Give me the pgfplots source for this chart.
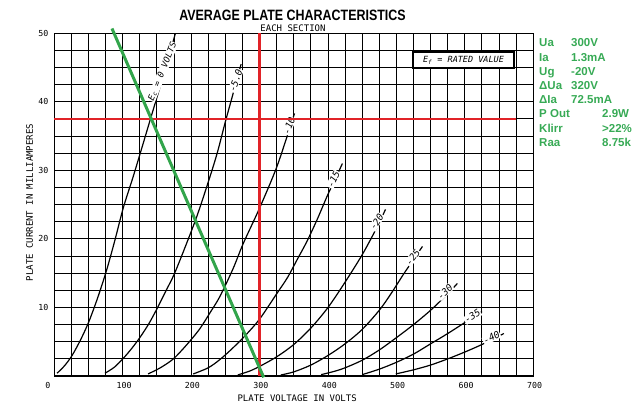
\documentclass[border=0pt]{standalone}
\usepackage{graphicx}
\usepackage{pgfplots}
\pgfplotsset{compat=1.18}
\usepackage{fontspec}
\setmainfont{Liberation Sans}
\newfontfamily\draft{DejaVu Sans Mono}
\definecolor{rl}{RGB}{225,35,40}
\definecolor{gl}{RGB}{50,165,75}
\definecolor{gt}{RGB}{55,170,85}
\begin{document}
\begin{tikzpicture}[lbl/.style={font=\draft\itshape\fontsize{9.5}{10}\selectfont, inner sep=0.6pt, fill=white}]
\useasboundingbox (0,0) rectangle (640pt,415pt);
\begin{axis}[
  at={(54.3pt,39pt)}, anchor=south west,
  scale only axis, width=479pt, height=342.7pt,
  xmin=0, xmax=700, ymin=0, ymax=50,
  xtick={100,200,300,400,500,600,700},
  xticklabels={100,200,300,400,500,600,700},
  extra x ticks={0}, extra x tick labels={0},
  extra x tick style={grid=none, xticklabel style={xshift=-7.8pt}},
  ytick={10,20,30,40,50}, yticklabels={10,20,30,40,50},
  minor xtick={25,50,...,675},
  minor ytick={2.5,5,...,47.5},
  grid=both,
  major grid style={black, line width=1pt},
  minor grid style={black, line width=1pt},
  major tick length=0pt, minor tick length=0pt,
  axis line style={black, line width=1.4pt},
  tick label style={font=\draft\fontsize{8.3}{9}\selectfont},
  xticklabel style={yshift=-3pt, xshift=1.3pt},
  yticklabel style={xshift=-2.5pt},
  clip=false,
  xlabel={PLATE VOLTAGE IN VOLTS},
  ylabel={PLATE CURRENT IN MILLIAMPERES},
  every axis x label/.style={at={(axis description cs:0.507,0)}, anchor=center, yshift=-22pt, font=\draft\fontsize{9}{10}\selectfont},
  every axis y label/.style={at={(axis description cs:0,0.506)}, xshift=-24.8pt, rotate=90, anchor=center, font=\draft\fontsize{9}{10}\selectfont},
]
% Ec = 0
\addplot[black, line width=1.2pt, smooth] coordinates {(4,0.4) (15,1.5) (26,3) (38,5.2) (50,7.8) (63,11.3) (76,15.3) (88,19.6) (101,24.6) (115,29) (128,33.3) (142,38) (160,44) (177,50)};
% Ec = -5
\addplot[black, line width=1.2pt, smooth] coordinates {(74,0.4) (88,1.3) (101,2.6) (113,4) (125,5.6) (138,7.6) (150,9.8) (163,12.4) (175,14.8) (190,18.5) (208,23.2) (225,28.3) (238,32.5) (250,37.1) (261,41.1) (273,45.5)};
% Ec = -10
\addplot[black, line width=1.2pt, smooth] coordinates {(137,0.3) (155,1.2) (174,2.5) (193,4.5) (212,6.8) (228,9.3) (242,11.6) (261,15.6) (276,19.3) (300,24.5) (324,30.2) (340,34.9) (351,38.3)};
% Ec = -15
\addplot[black, line width=1.2pt, smooth] coordinates {(203,0.3) (225,1.2) (242,2.4) (260,4) (280,6) (300,8.3) (325,12) (341,14.4) (355,17) (369,19.6) (384,22.8) (399,26.3) (410,28.6) (421,31)};
% Ec = -20
\addplot[black, line width=1.2pt, smooth] coordinates {(268,0.15) (285,0.7) (300,1.4) (325,2.8) (350,4.6) (375,7) (400,10) (425,13.7) (450,17.7) (470,21.4) (484,24.3)};
% Ec = -25
\addplot[black, line width=1.2pt, smooth] coordinates {(331,0.15) (350,0.6) (375,1.6) (400,3) (425,4.7) (450,6.8) (475,9.6) (492,12) (510,14.8) (525,17) (538,18.9)};
% Ec = -30
\addplot[black, line width=1.2pt, smooth] coordinates {(390,0.2) (410,0.7) (425,1.2) (450,2.3) (475,3.8) (500,5.6) (525,7.5) (550,9.6) (575,12) (589,13.5)};
% Ec = -35
\addplot[black, line width=1.2pt, smooth] coordinates {(450,0.2) (475,1.0) (500,2.0) (525,3.2) (550,4.7) (575,6.2) (600,7.8) (625,9.4)};
% Ec = -40
\addplot[black, line width=1.2pt, smooth] coordinates {(499,0.3) (525,0.9) (550,1.6) (575,2.5) (600,3.5) (625,4.6) (657,6.2)};
% curve labels (drawn on the curves, interrupting them)
\node[lbl, rotate=68, font=\draft\itshape\fontsize{8.7}{10}\selectfont] at (axis cs:158,44.4) {E\textsubscript{c} = 0 VOLTS};
\node[lbl, rotate=71] at (axis cs:265,43.1) {-5.0};
\node[lbl, rotate=68] at (axis cs:343,36.5) {-10};
\node[lbl, rotate=64] at (axis cs:408,28.7) {-15};
\node[lbl, rotate=58] at (axis cs:471,22.5) {-20};
\node[lbl, rotate=52] at (axis cs:524,17.3) {-25};
\node[lbl, rotate=43] at (axis cs:571,12.3) {-30};
\node[lbl, rotate=33] at (axis cs:611,8.7) {-35};
\node[lbl, rotate=27] at (axis cs:639,5.6) {-40};
% red lines
\addplot[rl, line width=2.2pt] coordinates {(300,0) (300,50)};
\addplot[rl, line width=2.2pt] coordinates {(0,37.5) (675,37.5)};
% green load line
\addplot[gl, line width=3pt] coordinates {(84.3,50.7) (306,-0.2)};
\node[draw, line width=1.5pt, fill=white, minimum width=101pt, minimum height=16pt, inner sep=0pt, font=\draft\itshape\fontsize{8.5}{9}\selectfont] at (axis cs:598,46.1) {E\textsubscript{f} = RATED VALUE};
\end{axis}
\node[font=\bfseries\fontsize{15}{18}\selectfont] at (292.5pt,400pt) {\scalebox{0.83}[1]{AVERAGE PLATE CHARACTERISTICS}};
\node[font=\draft\fontsize{9}{10}\selectfont] at (293pt,386.7pt) {EACH SECTION};
\begin{scope}[every node/.style={anchor=base west, inner sep=0pt, text=gt, font=\bfseries\fontsize{11.5}{13}\selectfont}]
\node at (539pt,368.1pt) {Ua};     \node at (571pt,368.1pt) {300V};
\node at (539pt,353.9pt) {Ia};     \node at (571pt,353.9pt) {1.3mA};
\node at (539pt,339.7pt) {Ug};     \node at (571pt,339.7pt) {-20V};
\node at (539pt,325.4pt) {ΔUa};    \node at (571pt,325.4pt) {320V};
\node at (539pt,311.2pt) {ΔIa};    \node at (571pt,311.2pt) {72.5mA};
\node at (539pt,297.0pt) {P Out};  \node at (602pt,297.0pt) {2.9W};
\node at (539pt,282.7pt) {Klirr};  \node at (602pt,282.7pt) {>22\%};
\node at (539pt,268.5pt) {Raa};    \node at (602pt,268.5pt) {8.75k};
\end{scope}
\end{tikzpicture}
\end{document}
